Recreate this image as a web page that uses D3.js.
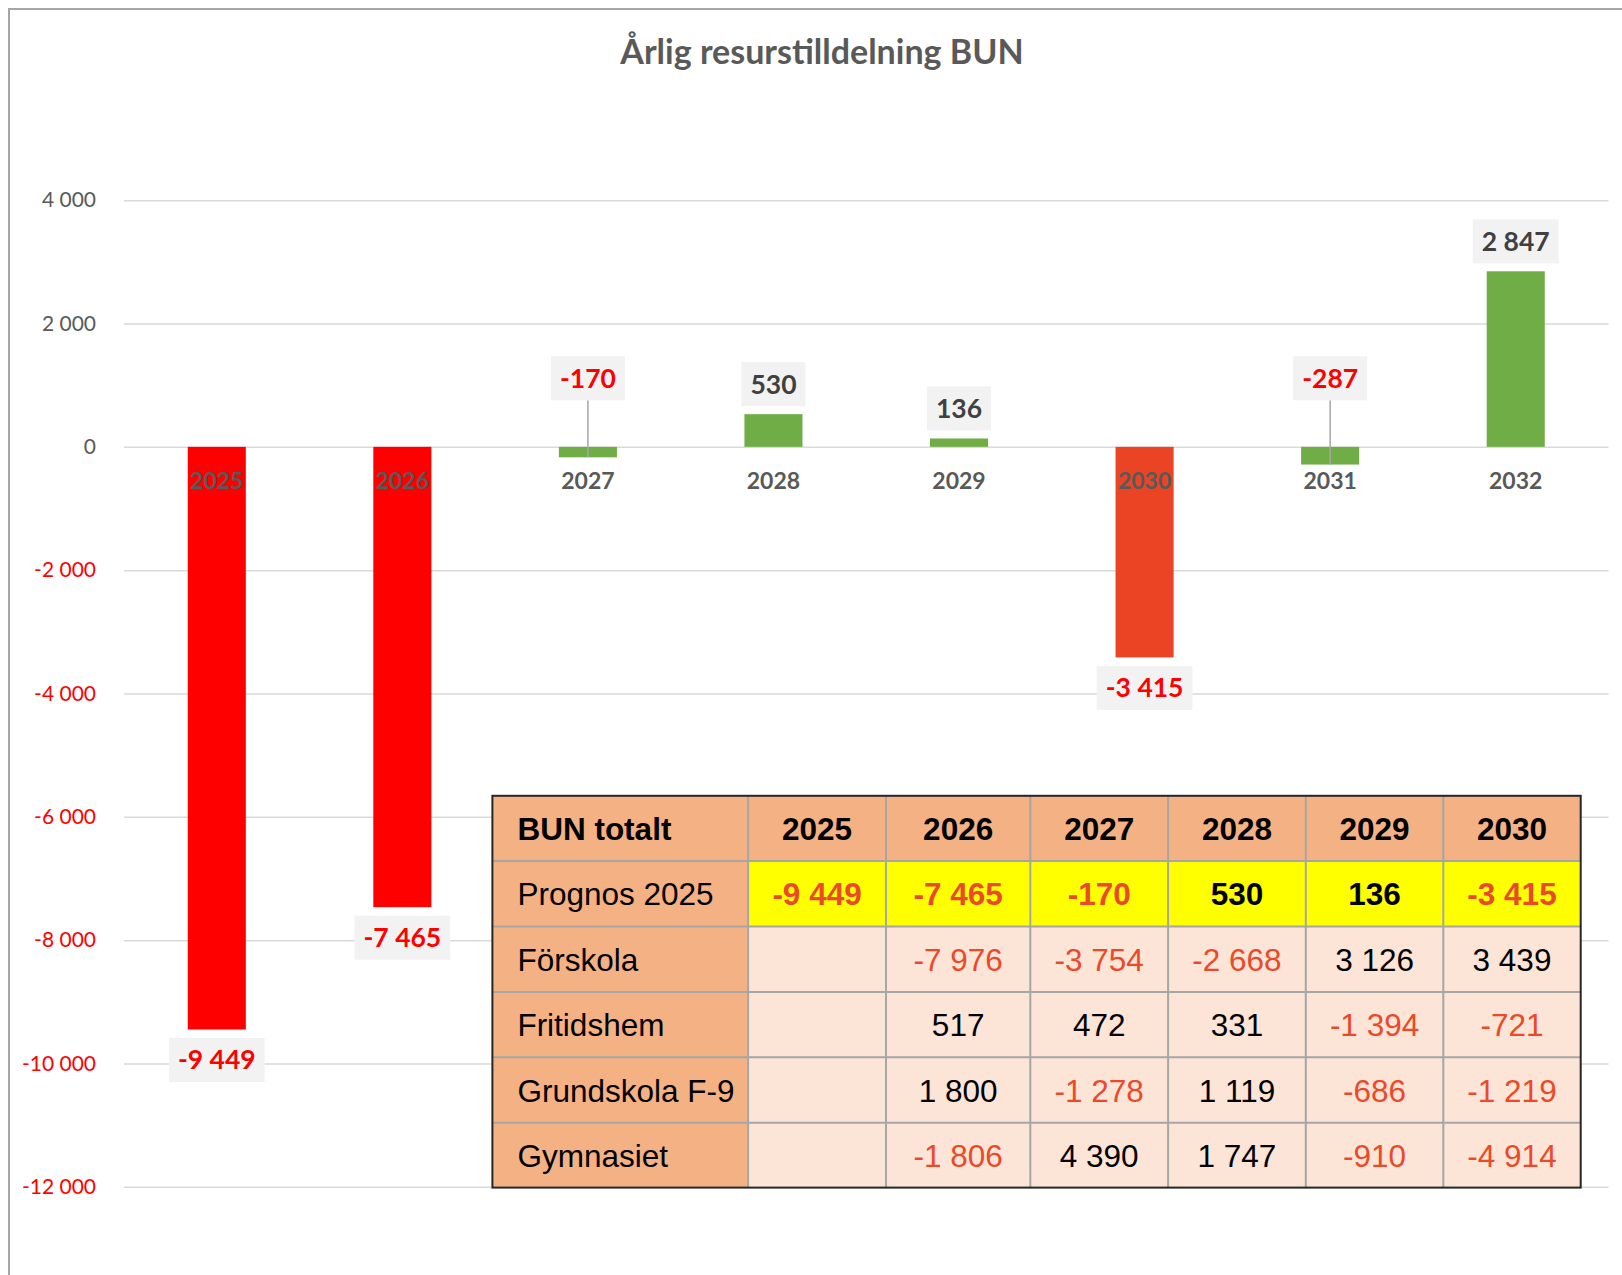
<!DOCTYPE html>
<html><head><meta charset="utf-8">
<script src="https://cdn.jsdelivr.net/npm/d3@7"></script>
<style>body{margin:0;background:#fff;overflow:hidden} svg{display:block}</style>
</head><body>
<svg id="c" width="1622" height="1275"></svg>
<script>
// ---------- data ----------
const title = "Årlig resurstilldelning BUN";
const categories = ["2025","2026","2027","2028","2029","2030","2031","2032"];
const values = [-9449, -7465, -170, 530, 136, -3415, -287, 2847];
const tickValues = [4000, 2000, 0, -2000, -4000, -6000, -8000, -10000, -12000];

const tableCorner = "BUN totalt";
const tableYears = ["2025","2026","2027","2028","2029","2030"];
const tableRowLabels = ["Prognos 2025","Förskola","Fritidshem","Grundskola F-9","Gymnasiet"];
const prognos2025 = [-9449, -7465, -170, 530, 136, -3415];
const forskola    = [null, -7976, -3754, -2668, 3126, 3439];
const fritidshem  = [null, 517, 472, 331, -1394, -721];
const grundskola  = [null, 1800, -1278, 1119, -686, -1219];
const gymnasiet   = [null, -1806, 4390, 1747, -910, -4914];
const tableRows = [prognos2025, forskola, fritidshem, grundskola, gymnasiet];

// ---------- styles ----------
const barFill = {"2025":"#ff0000","2026":"#ff0000","2030":"#ea4424"};
const green = "#70ad47";
const sans = "Lato, 'Open Sans', sans-serif";
const arial = "'Liberation Sans', Arial, sans-serif";

const W = 1622, H = 1275;
const svg = d3.select("#c");
const loc = d3.formatLocale({decimal:",", thousands:" ", grouping:[3], currency:["",""], minus:"-"});
const fmt = loc.format(",d");

// chart frame
svg.append("rect").attr("x",9).attr("y",9).attr("width",W).attr("height",H)
  .attr("fill","none").attr("stroke","#a6a6a6").attr("stroke-width",2);

// title
const t = svg.append("text").attr("x",822).attr("y",64).attr("text-anchor","middle")
  .attr("font-family",sans).attr("font-weight","bold").attr("font-size",34)
  .attr("fill","#595959").text(title);
if (t.node().getComputedTextLength() > 408) t.attr("textLength",408).attr("lengthAdjust","spacingAndGlyphs");

// scales
const plotL = 124, plotR = 1608.5;
const y = d3.scaleLinear().domain([-12000, 4000]).range([1186.8, 200.2]);
const x = d3.scaleBand().domain(categories).range([plotL, plotR]).paddingInner(0.687).paddingOuter(0.687/2);

// y axis + gridlines
const yAxis = d3.axisLeft(y).tickValues(tickValues).tickSize(-(plotR-plotL)).tickPadding(28).tickFormat(fmt);
const ga = svg.append("g").attr("transform",`translate(${plotL},0)`).call(yAxis);
ga.select(".domain").remove();
ga.selectAll(".tick line").attr("stroke","#d9d9d9").attr("stroke-width",1.5);
ga.selectAll(".tick text").attr("font-family",sans).attr("font-size",21)
  .attr("dy","0.32em")
  .attr("fill", d => d < 0 ? "#ff0000" : "#595959");

// bars
svg.append("g").selectAll("rect").data(categories).join("rect")
  .attr("x", c => x(c))
  .attr("width", x.bandwidth())
  .attr("y", (c,i) => Math.min(y(values[i]), y(0)))
  .attr("height", (c,i) => Math.abs(y(values[i]) - y(0)))
  .attr("fill", c => barFill[c] || green);

// category labels
svg.append("g").selectAll("text").data(categories).join("text")
  .attr("x", c => x(c) + x.bandwidth()/2).attr("y", 488.5)
  .attr("text-anchor","middle").attr("font-family",sans).attr("font-weight","bold")
  .attr("font-size",23).attr("fill","#595959").text(c => c);

// data labels
const gl = svg.append("g");
categories.forEach((c,i) => {
  const v = values[i];
  const cx = x(c) + x.bandwidth()/2;
  const boxH = 44;
  const g = gl.append("g");
  const txt = g.append("text").attr("text-anchor","middle").attr("font-family",sans)
    .attr("font-weight","bold").attr("font-size",26.5)
    .attr("fill", v < 0 ? "#ff0000" : "#404040").text(fmt(v));
  const tw = txt.node().getComputedTextLength();
  const boxW = tw + 18;
  let top, leader = false;
  if (v >= 0) top = y(v) - 8 - boxH;
  else if (v > -1000) { top = y(0) - 46.5 - boxH; leader = true; }
  else top = y(v) + 8.5;
  if (leader) {
    g.insert("line","text").attr("x1",cx).attr("y1",top+boxH).attr("x2",cx).attr("y2",y(v))
      .attr("stroke","#a6a6a6").attr("stroke-width",1.5);
  }
  g.insert("rect","text").attr("x",cx-boxW/2).attr("y",top).attr("width",boxW).attr("height",boxH)
    .attr("fill","#f2f2f2");
  txt.attr("x",cx).attr("y",top + boxH/2 + 9.5);
});

// ---------- table ----------
const colEdges = [492.4, 748.1, 886.0, 1030.3, 1168.1, 1305.8, 1443.3, 1580.7];
const rowEdges = [795.8, 861.1, 926.6, 992.0, 1057.3, 1122.8, 1187.6];
const peach = "#f4b183", light = "#fce4d6", yellow = "#ffff00";
const redTxt = "#ea4a2a";
const gt = svg.append("g");
const nRows = rowEdges.length - 1, nCols = colEdges.length - 1;
for (let r = 0; r < nRows; r++) {
  for (let k = 0; k < nCols; k++) {
    let fill = light;
    if (r === 0 || k === 0) fill = peach;
    else if (r === 1) fill = yellow;
    gt.append("rect").attr("x",colEdges[k]).attr("y",rowEdges[r])
      .attr("width",colEdges[k+1]-colEdges[k]).attr("height",rowEdges[r+1]-rowEdges[r])
      .attr("fill",fill);
  }
}
// inner grid lines
for (let k = 1; k < nCols; k++)
  gt.append("line").attr("x1",colEdges[k]).attr("x2",colEdges[k]).attr("y1",rowEdges[0]).attr("y2",rowEdges[nRows])
    .attr("stroke","#a6a6a6").attr("stroke-width",2);
for (let r = 1; r < nRows; r++)
  gt.append("line").attr("y1",rowEdges[r]).attr("y2",rowEdges[r]).attr("x1",colEdges[0]).attr("x2",colEdges[nCols])
    .attr("stroke","#a6a6a6").attr("stroke-width",2);
gt.append("rect").attr("x",colEdges[0]).attr("y",rowEdges[0])
  .attr("width",colEdges[nCols]-colEdges[0]).attr("height",rowEdges[nRows]-rowEdges[0])
  .attr("fill","none").attr("stroke","#262626").attr("stroke-width",2);

const rowMid = r => (rowEdges[r] + rowEdges[r+1]) / 2;
const colMid = k => (colEdges[k] + colEdges[k+1]) / 2;
function cellText(txt, k, r, opts) {
  gt.append("text").attr("x", opts.left ? colEdges[k] + 25 : colMid(k)).attr("y", rowMid(r) + 11.5)
    .attr("text-anchor", opts.left ? "start" : "middle")
    .attr("font-family",arial).attr("font-size",31.5)
    .attr("font-weight", opts.bold ? "bold" : "normal")
    .attr("fill", opts.fill || "#000").text(txt);
}
cellText(tableCorner, 0, 0, {left:true, bold:true});
tableYears.forEach((yr,k) => cellText(yr, k+1, 0, {bold:true}));
tableRowLabels.forEach((lab,r) => cellText(lab, 0, r+1, {left:true}));
tableRows.forEach((row,r) => {
  row.forEach((v,k) => {
    if (v === null) return;
    cellText(fmt(v), k+1, r+1, {bold: r === 0, fill: v < 0 ? redTxt : "#000"});
  });
});
</script>
</body></html>
